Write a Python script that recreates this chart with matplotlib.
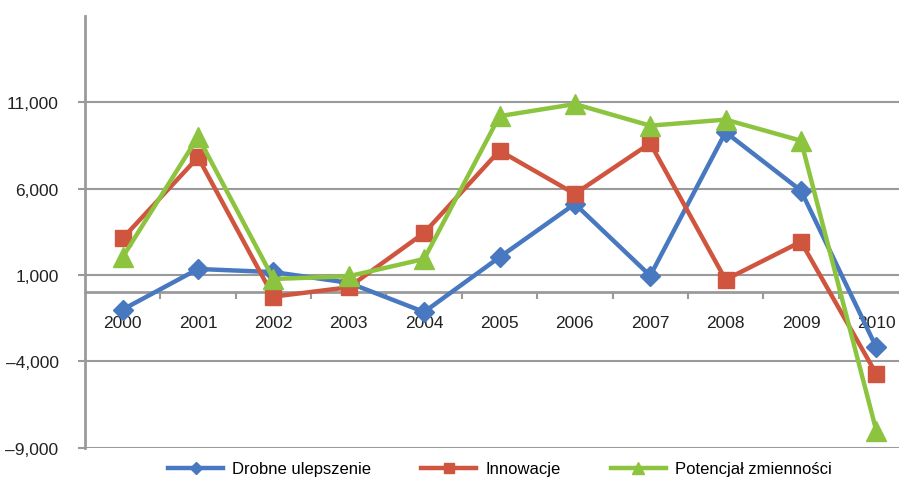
import matplotlib.pyplot as plt
from matplotlib.ticker import FixedLocator, FuncFormatter

years = ['2000', '2001', '2002', '2003', '2004', '2005',
         '2006', '2007', '2008', '2009', '2010']
drobne = [-1000, 1350, 1170, 550, -1140, 2030, 5120, 960, 9270, 5890, -3190]
innowacje = [3130, 7820, -250, 290, 3440, 8200, 5700, 8630, 730, 2930, -4730]
potencjal = [2040, 9000, 770, 930, 1930, 10200, 10900, 9650, 10000, 8780, -8020]
y_ticks = [-9000, -4000, 1000, 6000, 11000]

plt.rcParams['font.family'] = ['Liberation Sans Narrow', 'Liberation Sans', 'DejaVu Sans']

fig = plt.figure(figsize=(8.99, 4.85), dpi=100)
ax = fig.add_axes([85 / 899, 36.3 / 485, 829 / 899, 431.7 / 485])

x = range(len(years))
ax.plot(x, drobne, color='#4878BF', lw=3.2, marker='D', ms=10,
        label='Drobne ulepszenie', zorder=3)
ax.plot(x, innowacje, color='#D0553F', lw=3.2, marker='s', ms=12,
        label='Innowacje', zorder=4)
ax.plot(x, potencjal, color='#8CC43F', lw=3.2, marker='^', ms=14,
        label='Potencjał zmienności', zorder=5)

ax.set_xlim(-0.5, len(years) - 0.5)
ax.set_ylim(-9000, 16000)

gray = '#9A9A9A'
ax.yaxis.set_major_locator(FixedLocator(y_ticks))
ax.yaxis.set_major_formatter(FuncFormatter(
    lambda v, p: f'{v:,.0f}'.replace('-', '\u2013')))
ax.tick_params(axis='y', length=5, width=1.5, color=gray, pad=14,
               labelsize=12.5, labelcolor='#222222')
ax.grid(axis='y', color=gray, lw=1.5)
ax.set_axisbelow(True)

# category labels hang below the zero line, tick marks sit between categories
ax.spines['bottom'].set_position(('data', 0))
ax.set_xticks(list(x))
ax.set_xticklabels(years)
ax.set_xticks([i + 0.5 for i in range(len(years) - 1)], minor=True)
ax.tick_params(axis='x', which='major', length=0, pad=16,
               labelsize=12.5, labelcolor='#222222')
ax.tick_params(axis='x', which='minor', length=5, width=1.5, color=gray)

for side in ['top', 'right']:
    ax.spines[side].set_visible(False)
for side in ['left', 'bottom']:
    ax.spines[side].set_color(gray)
    ax.spines[side].set_linewidth(2)

fig.legend(loc='center', bbox_to_anchor=(500 / 899, 15 / 485), ncol=3,
           frameon=False, fontsize=12, handlelength=3.3, columnspacing=3.0,
           handletextpad=0.55, markerscale=0.6)

fig.savefig('out.png', dpi=100)
